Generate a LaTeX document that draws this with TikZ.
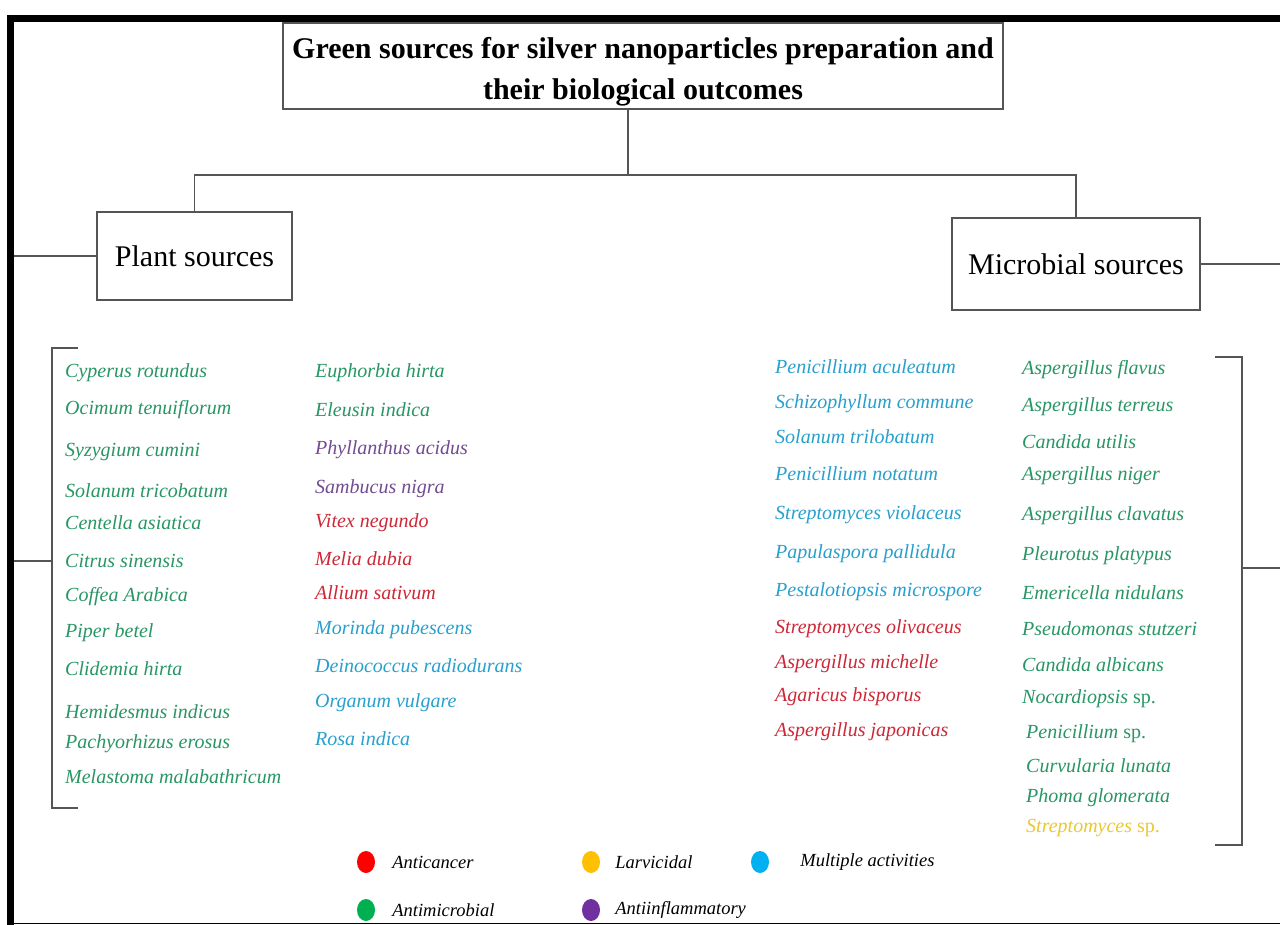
\documentclass[tikz,border=0pt]{standalone}
\usepackage{fontspec}
\setmainfont{Liberation Serif}
\usetikzlibrary{positioning,shapes.geometric}

\definecolor{txtgreen}{RGB}{40,150,100}
\definecolor{txtblue}{RGB}{40,160,205}
\definecolor{txtred}{RGB}{205,40,55}
\definecolor{txtpurple}{RGB}{115,75,145}
\definecolor{txtyellow}{RGB}{235,200,50}
\definecolor{dotred}{RGB}{255,0,0}
\definecolor{dotorange}{RGB}{255,192,0}
\definecolor{dotblue}{RGB}{0,176,240}
\definecolor{dotgreen}{RGB}{0,176,80}
\definecolor{dotpurple}{RGB}{112,48,160}
\definecolor{linegray}{RGB}{85,85,85}

\tikzset{
  srcbox/.style={draw=linegray, line width=1.5pt, inner sep=0pt, fill=white},
  species/.style={anchor=west, inner sep=0pt, font=\fontsize{20}{24}\selectfont\itshape},
  legdot/.style={ellipse, minimum width=18pt, minimum height=22pt, inner sep=0pt},
  legtext/.style={anchor=west, inner sep=0pt, font=\fontsize{18.5}{22}\selectfont\itshape},
  conn/.style={draw=linegray, line width=1.5pt}
}

\begin{document}
\begin{tikzpicture}[x=1pt,y=-1pt]
\useasboundingbox (0,0) rectangle (1280,925);
\fill[white] (0,0) rectangle (1280,925);

% frame
\draw[line width=7pt] (10.5,925) -- (10.5,18.5) -- (1280,18.5);
\draw[line width=1.5pt] (14,923.5) -- (1280,923.5);

% boxes
\node[srcbox, minimum width=720pt, minimum height=86pt, align=center,
  font=\fontsize{30}{41}\selectfont\bfseries] (title) at (643,66)
  {\rule{0pt}{32pt}Green sources for silver nanoparticles preparation and\\their biological outcomes};
\node[srcbox, minimum width=195pt, minimum height=88pt,
  font=\fontsize{30}{34}\selectfont] (plant) at (194.5,256) {Plant sources};
\node[srcbox, minimum width=248pt, minimum height=92pt,
  font=\fontsize{30}{34}\selectfont] (micro) at (1076,264) {Microbial sources};

% tree
\coordinate (hub) at (628,175);
\draw[conn] (title.south -| hub) -- (hub);
\draw[conn] (plant.north) |- (hub) -| (micro.north);

% brackets
\coordinate (lframe) at (14,256);
\coordinate (lbr) at (52,561);
\coordinate (lbrframe) at (14,561);
\coordinate (rframe) at (1280,264);
\coordinate (rbr) at (1242,568);
\coordinate (rbrframe) at (1280,568);
\draw[conn] (plant.west) -- (lframe);
\draw[conn] (micro.east) -- (rframe);
\draw[conn] (78,348) -- (52,348) -- (52,808) -- (78,808);
\draw[conn] (lbr) -- (lbrframe);
\draw[conn] (1215,357) -- (1242,357) -- (1242,845) -- (1215,845);
\draw[conn] (rbr) -- (rbrframe);

% plant sources, first column
\node[species, txtgreen] (p1) at (65,373) {Cyperus rotundus};
\node[species, txtgreen] (p2) at (65,410) {Ocimum tenuiflorum};
\node[species, txtgreen] (p3) at (65,452) {Syzygium cumini};
\node[species, txtgreen] (p4) at (65,491) {Solanum tricobatum};
\node[species, txtgreen] (p5) at (65,523) {Centella asiatica};
\node[species, txtgreen] (p6) at (65,561) {Citrus sinensis};
\node[species, txtgreen] (p7) at (65,597) {Coffea Arabica};
\node[species, txtgreen] (p8) at (65,633) {Piper betel};
\node[species, txtgreen] (p9) at (65,669) {Clidemia hirta};
\node[species, txtgreen] (p10) at (65,712) {Hemidesmus indicus};
\node[species, txtgreen] (p11) at (65,744) {Pachyorhizus erosus};
\node[species, txtgreen] (p12) at (65,777) {Melastoma malabathricum};

% plant sources, second column
\node[species, txtgreen] (q1) at (315,373) {Euphorbia hirta};
\node[species, txtgreen] (q2) at (315,410) {Eleusin indica};
\node[species, txtpurple] (q3) at (315,450) {Phyllanthus acidus};
\node[species, txtpurple] (q4) at (315,489) {Sambucus nigra};
\node[species, txtred] (q5) at (315,523) {Vitex negundo};
\node[species, txtred] (q6) at (315,559) {Melia dubia};
\node[species, txtred] (q7) at (315,593) {Allium sativum};
\node[species, txtblue] (q8) at (315,630) {Morinda pubescens};
\node[species, txtblue] (q9) at (315,666) {Deinococcus radiodurans};
\node[species, txtblue] (q10) at (315,703) {Organum vulgare};
\node[species, txtblue] (q11) at (315,739) {Rosa indica};

% microbial sources, first column
\node[species, txtblue] (m1) at (775,367) {Penicillium aculeatum};
\node[species, txtblue] (m2) at (775,404) {Schizophyllum commune};
\node[species, txtblue] (m3) at (775,437) {Solanum trilobatum};
\node[species, txtblue] (m4) at (775,474) {Penicillium notatum};
\node[species, txtblue] (m5) at (775,515) {Streptomyces violaceus};
\node[species, txtblue] (m6) at (775,554) {Papulaspora pallidula};
\node[species, txtblue] (m7) at (775,592) {Pestalotiopsis microspore};
\node[species, txtred] (m8) at (775,629) {Streptomyces olivaceus};
\node[species, txtred] (m9) at (775,664) {Aspergillus michelle};
\node[species, txtred] (m10) at (775,697) {Agaricus bisporus};
\node[species, txtred] (m11) at (775,732) {Aspergillus japonicas};

% microbial sources, second column
\node[species, txtgreen] (n1) at (1022,370) {Aspergillus flavus};
\node[species, txtgreen] (n2) at (1022,407) {Aspergillus terreus};
\node[species, txtgreen] (n3) at (1022,442) {Candida utilis};
\node[species, txtgreen] (n4) at (1022,476) {Aspergillus niger};
\node[species, txtgreen] (n5) at (1022,516) {Aspergillus clavatus};
\node[species, txtgreen] (n6) at (1022,556) {Pleurotus platypus};
\node[species, txtgreen] (n7) at (1022,593) {Emericella nidulans};
\node[species, txtgreen] (n8) at (1022,629) {Pseudomonas stutzeri};
\node[species, txtgreen] (n9) at (1022,665) {Candida albicans};
\node[species, txtgreen] (n10) at (1022,699) {Nocardiopsis \upshape sp.};
\node[species, txtgreen] (n11) at (1026,734) {Penicillium \upshape sp.};
\node[species, txtgreen] (n12) at (1026,766) {Curvularia lunata};
\node[species, txtgreen] (n13) at (1026,798) {Phoma glomerata};
\node[species, txtyellow] (n14) at (1026,828) {Streptomyces \upshape sp.};

% legend
\node[legdot, fill=dotred] (dred) at (366,862) {};
\node[legtext, right=17pt of dred] (lred) {Anticancer};
\node[legdot, fill=dotorange] (dorange) at (591,862) {};
\node[legtext, right=15pt of dorange] (lorange) {Larvicidal};
\node[legdot, fill=dotblue] (dblue) at (760,862) {};
\node[legtext, right=31pt of dblue] (lblue) {Multiple activities};
\node[legdot, fill=dotgreen] (dgreen) at (366,910) {};
\node[legtext, right=17pt of dgreen] (lgreen) {Antimicrobial};
\node[legdot, fill=dotpurple] (dpurple) at (591,910) {};
\node[legtext, right=15pt of dpurple] (lpurple) {Antiinflammatory};
\end{tikzpicture}
\end{document}
